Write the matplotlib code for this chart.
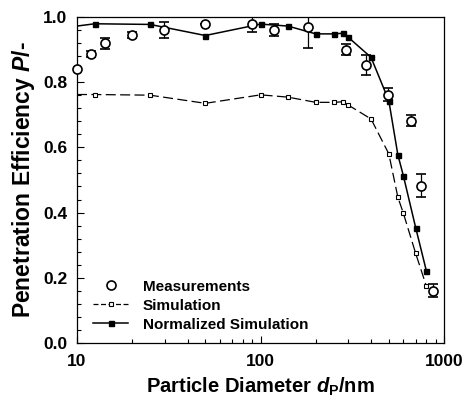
import numpy as np
import matplotlib
matplotlib.use("Agg")
import matplotlib.pyplot as plt
from matplotlib.lines import Line2D
from matplotlib.ticker import FixedLocator, MultipleLocator, NullFormatter

plt.rcParams['font.family'] = ['Liberation Sans', 'DejaVu Sans']
plt.rcParams['font.weight'] = 'bold'
plt.rcParams['mathtext.fontset'] = 'custom'
plt.rcParams['mathtext.rm'] = 'Liberation Sans:bold'
plt.rcParams['mathtext.it'] = 'Liberation Sans:bold:italic'
plt.rcParams['mathtext.bf'] = 'Liberation Sans:bold'

# Measurements
meas_d = [10, 11.9, 14.2, 19.9, 29.9, 49.8, 90, 119, 181, 292, 376, 497, 658, 747, 875]
meas_p = [0.84, 0.886, 0.919, 0.945, 0.96, 0.978, 0.979, 0.96, 0.968, 0.90, 0.852, 0.761, 0.682, 0.482, 0.16]
meas_err = [0.0, 0.01, 0.016, 0.01, 0.025, 0.0, 0.026, 0.018, 0.062, 0.018, 0.031, 0.02, 0.018, 0.035, 0.02]

# Simulation
sim_d = [10, 12.5, 25, 50, 100, 141, 200, 251, 283, 300, 400, 500, 560, 600, 700, 800]
sim_p = [0.762, 0.762, 0.76, 0.735, 0.761, 0.754, 0.738, 0.738, 0.74, 0.73, 0.687, 0.58, 0.447, 0.398, 0.275, 0.175]

# Normalized simulation
norm_d = [10, 12.5, 25, 50, 100, 141, 200, 251, 283, 300, 400, 500, 560, 600, 700, 800]
norm_p = [0.972, 0.979, 0.977, 0.943, 0.978, 0.972, 0.948, 0.948, 0.95, 0.938, 0.876, 0.743, 0.577, 0.513, 0.354, 0.222]

labels = ['Measurements', 'Simulation', 'Normalized Simulation']
yticks = [0, 0.2, 0.4, 0.6, 0.8, 1.0]
ytick_labels = ['0.0', '0.2', '0.4', '0.6', '0.8', '1.0']
xticks = [10, 100, 1000]
xtick_labels = ['10', '100', '1000']

fig = plt.figure(figsize=(4.65, 4.03), dpi=100)
ax = fig.add_axes([0.1656, 0.149, 0.7894, 0.809])

cont = ax.errorbar(meas_d, meas_p, yerr=meas_err, fmt='o', mfc='white', mec='black',
                   ms=6.5, mew=1.2, ecolor='black', elinewidth=0.9, capsize=3.5,
                   capthick=0.9, zorder=3)
cont[0].set_clip_on(False)
ax.plot(sim_d, sim_p, '--', color='black', lw=0.9, dashes=(8, 3.5),
        marker='s', ms=3.2, mfc='white', mec='black', mew=0.8,
        markevery=slice(1, None), zorder=2)
ax.plot(norm_d, norm_p, '-', color='black', lw=1.1,
        marker='s', ms=3.6, mfc='black', mec='black',
        markevery=slice(1, None), zorder=2)

ax.set_xscale('log')
ax.set_xlim(10, 1000)
ax.set_ylim(0, 1.0)
ax.yaxis.set_major_locator(FixedLocator(yticks))
ax.yaxis.set_minor_locator(MultipleLocator(0.04))
ax.set_yticklabels(ytick_labels)
ax.set_xticks(xticks)
ax.set_xticklabels(xtick_labels)
ax.xaxis.set_minor_formatter(NullFormatter())

ax.tick_params(which='both', direction='in', top=False, right=False,
               labelsize=12.5, width=0.8)
ax.tick_params(which='major', length=5)
ax.tick_params(axis='y', which='major', pad=7)
ax.tick_params(axis='x', which='major', pad=8)
ax.tick_params(which='minor', length=3)
for lab in ax.get_xticklabels() + ax.get_yticklabels():
    lab.set_fontweight('bold')
for s in ax.spines.values():
    s.set_linewidth(0.9)

ax.set_xlabel(r'Particle Diameter $d_\mathrm{P}$/nm', fontsize=14.5, fontweight='bold', labelpad=5)
ax.set_ylabel(r'Penetration Efficiency $P$/-', fontsize=16.5, fontweight='bold', labelpad=4)

handles = [
    Line2D([], [], ls='none', marker='o', mfc='white', mec='black', ms=6.5, mew=1.2),
    Line2D([], [], ls='--', dashes=(4, 2), color='black', lw=0.9, marker='s', ms=3.2,
           mfc='white', mec='black', mew=0.8),
    Line2D([], [], ls='-', color='black', lw=1.1, marker='s', ms=3.6,
           mfc='black', mec='black'),
]
leg = ax.legend(handles, labels, loc='lower left', bbox_to_anchor=(0.044, 0.035),
                frameon=False, fontsize=11, handlelength=2.3, labelspacing=0.32,
                handletextpad=0.95, borderaxespad=0, borderpad=0)
for t in leg.get_texts():
    t.set_fontweight('bold')

fig.savefig('out.png', dpi=100)
